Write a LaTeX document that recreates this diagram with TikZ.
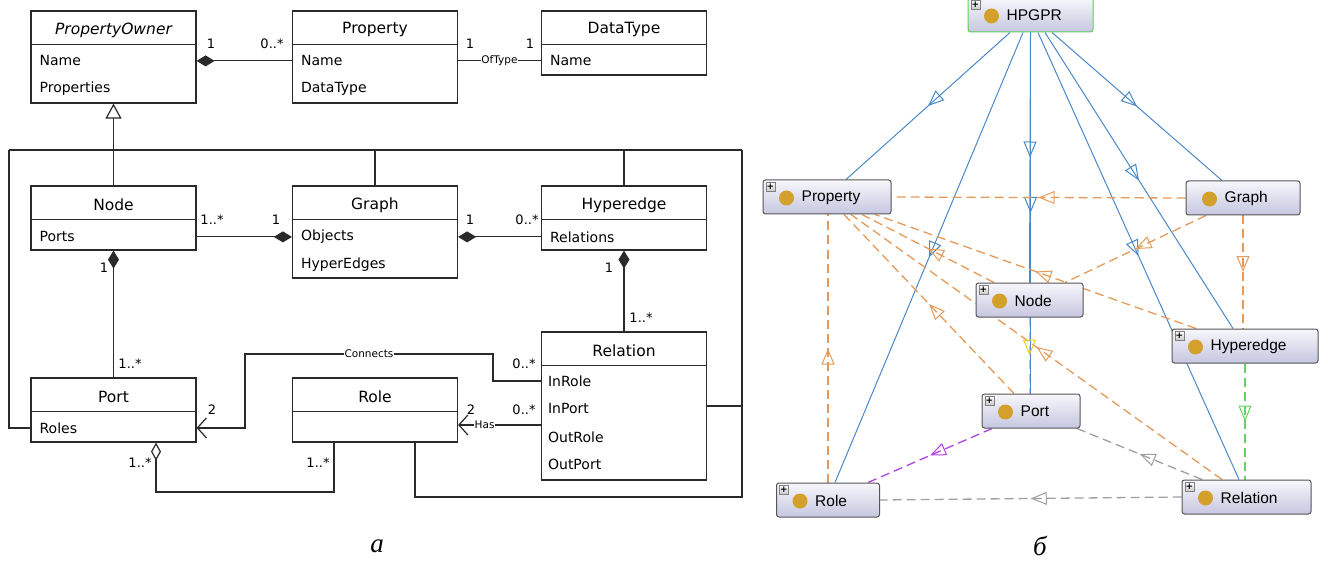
\documentclass[tikz,border=0pt]{standalone}
\usepackage{fontspec}
\setmainfont{DejaVu Sans}
\newfontfamily\ofont{Liberation Sans}
\newfontfamily\capfont{Liberation Serif}
\usetikzlibrary{arrows.meta,decorations.markings,calc,shadings}

\definecolor{ln}{HTML}{2A2A2A}
\definecolor{eblue}{HTML}{4A88C8}
\definecolor{eorange}{HTML}{E59A5A}
\definecolor{egray}{HTML}{A0A0A0}
\definecolor{epurple}{HTML}{B040E6}
\definecolor{egreen}{HTML}{62D462}
\definecolor{eyellow}{HTML}{F0CE20}
\definecolor{gold}{HTML}{D3A02C}
\definecolor{oborder}{HTML}{555555}
\definecolor{ogreen}{HTML}{5ED05E}
\definecolor{otop}{HTML}{F7F7FC}
\definecolor{obot}{HTML}{C6C6E0}

\pgfdeclarelayer{bg}
\pgfsetlayers{bg,main}

\tikzset{
  umlbox/.style={draw=ln, line width=1.2pt, fill=white, minimum width=165pt, inner sep=0pt},
  ttl/.style={font=\fontsize{15.5}{18}\selectfont, inner sep=0pt},
  attr/.style={font=\fontsize{14}{16}\selectfont, anchor=west, inner sep=0pt},
  mult/.style={font=\fontsize{13}{15}\selectfont, inner sep=0pt},
  elab/.style={font=\fontsize{10.5}{12}\selectfont, fill=white, inner sep=0.6pt},
  uline/.style={draw=ln, line width=1.2pt},
  comp/.style={uline, -{Diamond[length=18pt,width=11pt]}},
  aggr/.style={uline, -{Diamond[open,length=18pt,width=10pt,fill=white]}},
  gen/.style={uline, -{Triangle[open,length=15pt,width=16pt,fill=white]}},
  assoc/.style={uline, -{Straight Barb[length=9pt,width=20pt]}},
  midarr/.style={postaction={decorate, decoration={markings,
      mark=at position 0.5 with {\arrow{Triangle[open,length=16pt,width=13pt,line width=1pt]}}}}},
  bl/.style={draw=eblue, line width=1pt, midarr},
  od/.style={dash pattern=on 9pt off 5pt, line width=1.3pt, midarr},
  obox/.style={draw=oborder, line width=1pt, rounded corners=2.5pt, top color=otop, bottom color=obot, minimum height=34pt, inner sep=0pt},
  otext/.style={font=\ofont\fontsize{15.5}{17}\selectfont, inner sep=0pt, anchor=west},
  plusbox/.style={draw=gray, line width=0.6pt, top color=white, bottom color=gray!45, minimum size=9pt, inner sep=0pt, font=\fontsize{9}{9}\selectfont\bfseries},
}

% name, x, y, width, label, plus icon (1/0), border colour
\newcommand\ontonode[7]{%
  \node[obox, draw=#7, minimum width=#4] (#1) at (#2,#3) {};
  \fill[gold] ($(#1.west)+(24,1)$) circle (7.5);
  \node[otext] at ($(#1.west)+(39,0.5)$) {#5};
  \ifnum#6=1 \node[plusbox] at ($(#1.north west)+(8,7.5)$) {+};\fi
}

\begin{document}
\begin{tikzpicture}[x=1pt,y=-1pt]
\useasboundingbox (0,0) rectangle (1328,564);

% ================= LEFT: UML =================
\node[umlbox, minimum height=92pt] (PO) at (113.5,57) {};
\node[umlbox, minimum height=92pt] (PR) at (375,57) {};
\node[umlbox, minimum height=64pt] (DT) at (624,43) {};
\node[umlbox, minimum height=64pt] (ND) at (113.5,218) {};
\node[umlbox, minimum height=92pt] (GR) at (375,232) {};
\node[umlbox, minimum height=64pt] (HE) at (624,218) {};
\node[umlbox, minimum height=64pt] (PT) at (113.5,410) {};
\node[umlbox, minimum height=64pt] (RO) at (375,410) {};
\node[umlbox, minimum height=148pt] (RE) at (624,406) {};

\foreach \b in {PO,PR,DT,ND,GR,HE,PT,RO,RE}
  \draw[uline] ($(\b.north west)+(0,34)$) -- ($(\b.north east)+(0,34)$);

\node[ttl] at ($(PO.north)+(0,19.5)$) {\itshape PropertyOwner};
\node[ttl] at ($(PR.north)+(0,19.5)$) {Property};
\node[ttl] at ($(DT.north)+(0,19.5)$) {DataType};
\node[ttl] at ($(ND.north)+(0,19.5)$) {Node};
\node[ttl] at ($(GR.north)+(0,19.5)$) {Graph};
\node[ttl] at ($(HE.north)+(0,19.5)$) {Hyperedge};
\node[ttl] at ($(PT.north)+(0,19.5)$) {Port};
\node[ttl] at ($(RO.north)+(0,19.5)$) {Role};
\node[ttl] at ($(RE.north)+(0,19.5)$) {Relation};

\node[attr] (POn) at ($(PO.north west)+(9,50.5)$) {Name};
\node[attr] (POp) at ($(PO.north west)+(9,78.5)$) {Properties};
\node[attr] (PRn) at ($(PR.north west)+(9,50.5)$) {Name};
\node[attr] (PRd) at ($(PR.north west)+(9,78.5)$) {DataType};
\node[attr] (DTn) at ($(DT.north west)+(9,50.5)$) {Name};
\node[attr] (NDp) at ($(ND.north west)+(9,51.5)$) {Ports};
\node[attr] (GRo) at ($(GR.north west)+(9,51.5)$) {Objects};
\node[attr] (GRh) at ($(GR.north west)+(9,79.5)$) {HyperEdges};
\node[attr] (HEr) at ($(HE.north west)+(9,51.5)$) {Relations};
\node[attr] (PTr) at ($(PT.north west)+(9,50.5)$) {Roles};
\node[attr] (REir) at ($(RE.north west)+(7,49.5)$) {InRole};
\node[attr] (REip) at ($(RE.north west)+(7,77.5)$) {InPort};
\node[attr] (REor) at ($(RE.north west)+(7,105.5)$) {OutRole};
\node[attr] (REop) at ($(RE.north west)+(7,133.5)$) {OutPort};

% generalisation bus
\coordinate (busL) at (9,150);
\coordinate (busR) at (742,150);
\coordinate (busB) at (742,497);
\draw[gen] (PO.south |- busL) -- (PO.south);
\draw[uline] (busL) -- (busR);
\draw[uline] (ND.north) -- (ND.north |- busL);
\draw[uline] (GR.north) -- (GR.north |- busL);
\draw[uline] (HE.north) -- (HE.north |- busL);
\draw[uline] (PT.west |- PTr) -- (busL |- PTr) -- (busL);
\draw[uline] (RE.east) -- (busR |- RE.east);
\draw[uline] ($(RO.south)+(40,0)$) |- (busB) -- (busR);

% associations
\draw[comp] (PR.west |- PRn) -- (PO.east |- POn);
\node[mult] at (211,44) {1};
\node[mult] at (272,44) {0..*};
\draw[uline] (PR.east |- PRn) -- node[elab]{OfType} (DT.west |- DTn);
\node[mult] at (470,44) {1};
\node[mult] at (530,44) {1};

\draw[comp] (ND.east |- NDp) -- (GR.west |- GRo);
\node[mult] at (212,220) {1..*};
\node[mult] at (276,220) {1};
\draw[comp] (HE.west |- HEr) -- (GR.east |- GRo);
\node[mult] at (470,220) {1};
\node[mult] at (527,220) {0..*};

\draw[comp] (PT.north) -- (ND.south);
\node[mult] at (104,268) {1};
\node[mult] at (130,364) {1..*};
\draw[comp] (RE.north) -- (HE.south);
\node[mult] at (609,268) {1};
\node[mult] at (641,318) {1..*};

\coordinate (cA) at (493,354);
\coordinate (cB) at (245,354);
\draw[assoc] (RE.west |- REir) -| (cA) -- node[elab]{Connects} (cB) |- (PT.east |- PTr);
\node[mult] at (524,364) {0..*};
\node[mult] at (212,410) {2};

\coordinate (hasY) at (0,425);
\draw[assoc] (RE.west |- hasY) -- node[elab, pos=0.68]{Has} (RO.east |- hasY);
\node[mult] at (471,410) {2};
\node[mult] at (524,410) {0..*};

\coordinate (agL) at (156,492);
\draw[aggr] ($(RO.south)+(-41,0)$) |- (agL) -- ($(PT.south)+(42.5,0)$);
\node[mult] at (140,463) {1..*};
\node[mult] at (318,463) {1..*};

\node[font=\capfont\itshape\fontsize{27}{30}\selectfont] (capA) at (377,546) {а};

% ================= RIGHT: OntoGraf =================
\ontonode{oH}{1030.5}{15}{125pt}{HPGPR}{1}{ogreen}
\ontonode{oPR}{827}{197}{128pt}{Property}{1}{oborder}
\ontonode{oGR}{1243}{198}{114pt}{Graph}{0}{oborder}
\ontonode{oND}{1029.5}{300}{107pt}{Node}{1}{oborder}
\ontonode{oHE}{1245}{346}{146pt}{Hyperedge}{1}{oborder}
\ontonode{oPT}{1031}{411}{98pt}{Port}{1}{oborder}
\ontonode{oRO}{828}{500}{103pt}{Role}{1}{oborder}
\ontonode{oRE}{1246.5}{497}{129pt}{Relation}{1}{oborder}

\begin{pgfonlayer}{bg}
% blue subclass edges
\draw[bl] ($(oH.south)+(-20.5,0)$) -- ($(oPR.north)+(19,0)$);
\draw[bl] ($(oH.south)+(21.5,0)$) -- ($(oGR.north)+(-21,0)$);
\draw[bl] (oH.south) -- (oND.north);
\draw[bl] (oH.south) -- (oH.south |- oPT.north);
\draw[bl] ($(oH.south)+(-7.5,0)$) -- ($(oRO.north)+(7,0)$);
\draw[bl] ($(oH.south)+(14.5,0)$) -- ($(oHE.north)+(-12,0)$);
\draw[bl] ($(oH.south)+(7.5,0)$) -- ($(oRE.north)+(-7.5,0)$);

% orange object-property edges
\draw[od, eorange] (oGR.west) -- (oPR.east);
\draw[od, eorange] ($(oGR.south)+(-37,0)$) -- ($(oND.north)+(35.5,0)$);
\draw[od, eorange] (oGR.south) -- (oGR.south |- oHE.north);
\draw[od, eorange] ($(oND.north)+(-35.5,0)$) -- ($(oPR.south)+(35,0)$);
\draw[od, eorange] ($(oHE.north)+(-49,0)$) -- ($(oPR.south)+(48,0)$);
\draw[od, eorange] ($(oPT.north)+(-17,0)$) -- ($(oPR.south)+(17,0)$);
\draw[od, eorange] ($(oRE.north)+(-24.5,0)$) -- ($(oPR.south)+(24,0)$);
\draw[od, eorange] (oRO.north) -- (oRO.north |- oPR.south);

% other coloured edges
\draw[od, eyellow] (oND.south) -- (oND.south |- oPT.north);
\draw[od, egreen] (oHE.south) -- (oHE.south |- oRE.north);
\draw[od, egray] ($(oRE.north)+(-44.5,0)$) -- ($(oPT.south)+(46,0)$);
\draw[od, egray] (oRE.west) -- (oRO.east);
\draw[od, epurple] ($(oPT.south)+(-39,0)$) -- ($(oRO.north)+(40,0)$);
\end{pgfonlayer}

\node[font=\capfont\itshape\fontsize{27}{30}\selectfont] (capB) at (1040,546) {б};
\end{tikzpicture}
\end{document}
